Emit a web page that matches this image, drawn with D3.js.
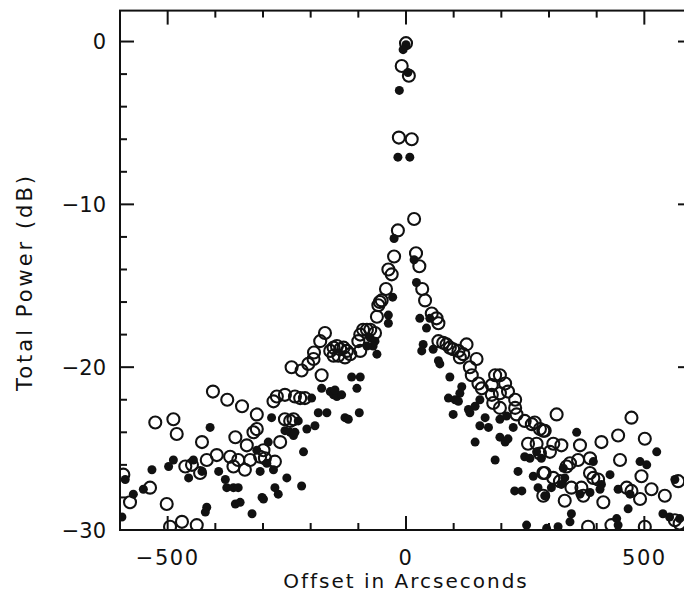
<!DOCTYPE html>
<html lang="en">
	<head>
		<meta charset="UTF-8" />
		<title>Total Power vs Offset</title>
		<style>
			body { margin: 0; background: #fff; }
			text { font-family: "DejaVu Sans", sans-serif; fill: #111; }
		</style>
	</head>
	<body>
		<div id="chart"></div>
		<script src="https://d3js.org/d3.v7.min.js"></script>
		<script>
			const width = 684;
			const height = 592;

			// [offset (arcsec), total power (dB)]
			const openCircles = [
				[0, -0.1], [-9, -1.5], [6, -2.1], [-15, -5.9], [12, -6.0],
				[17, -10.9], [-17, -11.6], [21, -13.0], [-25, -13.2], [28, -13.8],
				[-37, -14.0], [-30, -14.3], [34, -15.2], [-42, -15.2], [40, -15.9],
				[-51, -15.9], [-55, -16.0], [-58, -16.2], [-61, -16.9], [54, -16.7],
				[64, -17.0], [68, -17.3], [-90, -17.7], [-82, -17.7], [-75, -17.7],
				[-65, -17.9], [-96, -18.0], [-100, -18.4], [-96, -19.0], [-170, -17.9],
				[-180, -18.4], [-193, -19.1], [-159, -19.0], [-152, -18.8], [-145, -18.7],
				[-138, -18.9], [-131, -18.8], [-124, -19.0], [-117, -19.2], [-128, -19.4],
				[-142, -19.3], [-152, -19.3], [-194, -19.5], [-205, -19.8], [-219, -20.2],
				[-240, -20.0], [-177, -20.5], [-271, -21.8], [-254, -21.7], [-233, -21.8],
				[-222, -21.9], [-212, -21.9], [-405, -21.5], [-375, -22.0], [68, -18.4],
				[78, -18.5], [85, -18.6], [92, -18.8], [99, -18.9], [110, -19.0],
				[120, -19.2], [127, -18.6], [113, -19.4], [148, -19.5], [134, -20.0],
				[138, -20.5], [152, -21.0], [159, -21.3], [180, -21.1], [187, -20.5],
				[197, -20.5], [208, -21.0], [214, -21.5], [197, -21.6], [180, -21.7],
				[229, -22.0], [-344, -22.4], [-313, -22.9], [-526, -23.4], [-488, -23.2],
				[-481, -24.1], [-428, -24.6], [-358, -24.3], [-334, -24.8], [-320, -24.0],
				[-313, -23.8], [-463, -26.1], [-449, -26.0], [-432, -26.5], [-418, -25.7],
				[-397, -25.4], [-369, -25.5], [-352, -25.7], [-362, -26.1], [-338, -26.3],
				[-327, -25.7], [-306, -25.5], [-593, -26.6], [-537, -27.4], [-579, -28.3],
				[-502, -28.4], [-470, -29.5], [-439, -29.7], [-495, -29.8], [-254, -23.2],
				[-243, -23.3], [-236, -23.2], [-264, -24.6], [-299, -25.1], [-296, -25.6],
				[-275, -25.8], [-278, -22.1], [183, -22.2], [197, -22.5], [229, -22.5],
				[232, -22.9], [249, -23.3], [264, -23.5], [270, -23.4], [256, -24.7],
				[274, -24.7], [288, -23.9], [288, -26.5], [288, -27.9], [316, -22.9],
				[473, -23.1], [281, -23.8], [291, -23.9], [410, -24.6], [445, -24.2],
				[501, -24.4], [309, -24.7], [326, -24.8], [365, -24.8], [281, -25.3],
				[302, -25.2], [449, -25.7], [361, -25.7], [386, -25.6], [344, -25.9],
				[337, -26.1], [291, -26.5], [309, -26.8], [323, -27.0], [386, -26.5],
				[393, -26.8], [403, -26.9], [494, -26.7], [571, -27.0], [347, -27.4],
				[368, -27.4], [372, -27.9], [463, -27.4], [473, -27.6], [491, -28.1],
				[515, -27.5], [543, -27.9], [333, -28.2], [414, -28.3], [564, -29.4],
				[574, -29.6], [501, -29.8], [431, -29.7], [382, -29.8]
			];

			const filledDots = [
				[0, -0.2], [-6, -0.5], [4, -1.9], [-14, -3.0], [-17, -7.1],
				[8, -7.1], [-25, -12.1], [17, -13.4], [22, -14.8], [-28, -15.7],
				[-37, -16.8], [-37, -17.3], [-75, -18.2], [-65, -18.4], [-69, -18.7],
				[-82, -18.7], [-61, -19.2], [-177, -21.3], [-114, -20.6], [-96, -20.6],
				[-103, -21.3], [-159, -21.5], [-152, -21.7], [-145, -21.8], [-135, -21.7],
				[-149, -21.4], [-198, -21.9], [29, -17.0], [50, -17.0], [43, -17.6],
				[36, -18.6], [33, -19.0], [57, -18.9], [68, -19.6], [71, -19.8],
				[92, -20.6], [117, -21.2], [113, -21.6], [89, -21.9], [103, -22.0],
				[110, -22.1], [155, -22.0], [99, -22.9], [131, -22.6], [145, -22.4],
				[134, -22.8], [155, -23.6], [173, -23.7], [166, -23.1], [197, -23.2],
				[211, -23.0], [145, -24.6], [197, -24.3], [208, -24.6], [214, -24.4],
				[225, -23.7], [187, -25.7], [249, -25.5], [260, -25.6], [235, -26.4],
				[267, -26.7], [228, -27.6], [243, -27.6], [277, -27.4], [253, -29.7],
				[274, -25.2], [358, -24.0], [526, -25.2], [284, -25.6], [393, -25.8],
				[491, -25.8], [505, -26.0], [330, -26.2], [333, -26.8], [428, -26.6],
				[564, -26.9], [410, -27.2], [407, -27.5], [386, -27.7], [365, -27.8],
				[326, -27.2], [305, -27.4], [445, -27.5], [470, -27.8], [291, -27.9],
				[466, -28.7], [347, -29.0], [344, -29.5], [442, -29.3], [539, -29.0],
				[553, -29.2], [295, -29.9], [319, -29.8], [445, -29.7], [574, -29.3],
				[-411, -23.7], [-313, -25.1], [-488, -25.7], [-446, -25.7], [-533, -26.3],
				[-498, -26.1], [-456, -26.8], [-428, -26.4], [-393, -26.4], [-379, -26.9],
				[-376, -27.4], [-362, -27.4], [-352, -27.4], [-589, -26.9], [-551, -27.5],
				[-572, -27.8], [-358, -28.4], [-348, -28.3], [-418, -28.6], [-421, -28.9],
				[-323, -29.0], [-302, -28.0], [-596, -29.2], [-184, -22.8], [-166, -22.8],
				[-128, -23.1], [-121, -23.2], [-98, -22.8], [-226, -23.3], [-282, -23.1],
				[-254, -23.9], [-243, -24.0], [-236, -24.2], [-233, -24.0], [-208, -23.8],
				[-191, -23.6], [-289, -24.6], [-215, -25.2], [-292, -25.9], [-278, -26.3],
				[-306, -26.4], [-250, -26.8], [-275, -27.4], [-268, -27.8], [-219, -27.3],
				[-299, -28.1]
			];

			const xTickLabels = [-500, 0, 500];
			const yTickLabels = [0, -10, -20, -30];
			const xMinorTicks = d3.range(-500, 600, 100);
			const yMinorTicks = d3.range(-30, 1, 2);

			const x = d3.scaleLinear().domain([-600, 600]).range([120, 692]);
			const y = d3.scaleLinear().domain([-30, 1.9]).range([530, 10.6]);

			const svg = d3
				.select("#chart")
				.append("svg")
				.attr("width", width)
				.attr("height", height);

			svg.append("clipPath")
				.attr("id", "plot-clip")
				.append("rect")
				.attr("x", x(-600))
				.attr("y", y(1.9))
				.attr("width", x(600) - x(-600))
				.attr("height", y(-30) - y(1.9));

			const plot = svg.append("g").attr("clip-path", "url(#plot-clip)");

			plot.selectAll("circle.open")
				.data(openCircles)
				.enter()
				.append("circle")
				.attr("class", "open")
				.attr("cx", (d) => x(d[0]))
				.attr("cy", (d) => y(d[1]))
				.attr("r", 6)
				.style("fill", "none")
				.style("stroke", "#111")
				.style("stroke-width", 2.1);

			plot.selectAll("circle.filled")
				.data(filledDots)
				.enter()
				.append("circle")
				.attr("class", "filled")
				.attr("cx", (d) => x(d[0]))
				.attr("cy", (d) => y(d[1]))
				.attr("r", 4.5)
				.style("fill", "#111");

			// frame
			svg.append("rect")
				.attr("x", x(-600))
				.attr("y", y(1.9))
				.attr("width", x(600) - x(-600))
				.attr("height", y(-30) - y(1.9))
				.style("fill", "none")
				.style("stroke", "#111")
				.style("stroke-width", 2);

			const tickLen = (major) => (major ? 14 : 7);

			// inward ticks on all four sides
			const ticks = svg.append("g").style("stroke", "#111").style("stroke-width", 2);
			xMinorTicks.forEach((v) => {
				const len = tickLen(v % 500 === 0);
				ticks.append("line")
					.attr("x1", x(v)).attr("x2", x(v))
					.attr("y1", y(1.9)).attr("y2", y(1.9) + len);
				ticks.append("line")
					.attr("x1", x(v)).attr("x2", x(v))
					.attr("y1", y(-30)).attr("y2", y(-30) - len);
			});
			yMinorTicks.forEach((v) => {
				const len = tickLen(v % 10 === 0);
				ticks.append("line")
					.attr("x1", x(-600)).attr("x2", x(-600) + len)
					.attr("y1", y(v)).attr("y2", y(v));
				ticks.append("line")
					.attr("x1", x(600)).attr("x2", x(600) - len)
					.attr("y1", y(v)).attr("y2", y(v));
			});

			const fmt = (v) => (v < 0 ? "\u2212" + Math.abs(v) : String(v));

			svg.selectAll("text.ylab")
				.data(yTickLabels)
				.enter()
				.append("text")
				.attr("class", "ylab")
				.attr("x", 106)
				.attr("y", (d) => y(d))
				.attr("dy", "0.36em")
				.attr("text-anchor", "end")
				.style("font-size", "21px")
				.text(fmt);

			svg.selectAll("text.xlab")
				.data(xTickLabels)
				.enter()
				.append("text")
				.attr("class", "xlab")
				.attr("x", (d) => x(d))
				.attr("y", 565)
				.attr("text-anchor", "middle")
				.style("font-size", "21px")
				.style("letter-spacing", "1.5px")
				.text(fmt);

			svg.append("text")
				.attr("x", x(0))
				.attr("y", 588)
				.attr("text-anchor", "middle")
				.style("font-size", "20px")
				.style("letter-spacing", "2px")
				.text("Offset in Arcseconds");

			svg.append("text")
				.attr("transform", "translate(32," + 282 + ") rotate(-90)")
				.attr("text-anchor", "middle")
				.style("font-size", "21px")
				.style("letter-spacing", "3px")
				.text("Total Power (dB)");
		</script>
	</body>
</html>
